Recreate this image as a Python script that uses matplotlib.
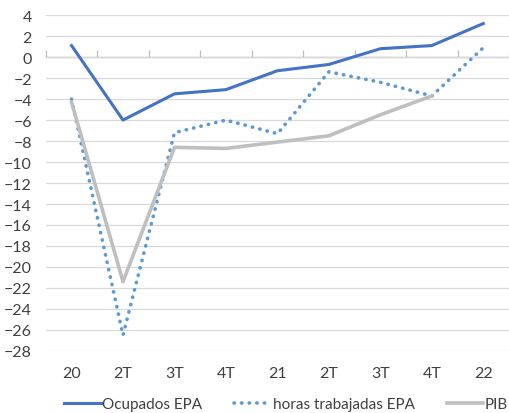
import matplotlib.pyplot as plt
from matplotlib.lines import Line2D
import numpy as np

plt.rcParams['font.family'] = ['Lato', 'DejaVu Sans']

# Datos (tasas de variación, %)
trimestres = ['20', '2T', '3T', '4T', '21', '2T', '3T', '4T', '22']
ocupados = [1.1, -6.0, -3.5, -3.1, -1.3, -0.7, 0.8, 1.1, 3.2]
horas = [-4.0, -26.5, -7.2, -6.0, -7.3, -1.4, -2.4, -3.7, 0.9]
pib = [-4.3, -21.4, -8.6, -8.7, -8.1, -7.5, -5.5, -3.7, np.nan]

x = np.arange(len(trimestres))
txt = '#404040'

fig = plt.figure(figsize=(5.09, 4.14), dpi=100)
ax = fig.add_axes([0.09, 0.15, 0.91, 0.811])

ax.plot(x, ocupados, color='#4472C4', lw=2.2, label='Ocupados EPA')
ax.plot(x, horas, color='#5B9BD5', lw=2.6, ls=(0, (0.1, 2.0)),
        dash_capstyle='round', label='horas trabajadas EPA')
ax.plot(x, pib, color='#BFBFBF', lw=2.6, label='PIB')

ax.set_xlim(-0.5, len(trimestres) - 0.5)
ax.set_ylim(-28, 4)
ax.set_yticks(np.arange(-28, 5, 2))
ax.grid(axis='y', color='#D9D9D9', lw=0.9)
ax.set_axisbelow(True)
for s in ax.spines.values():
    s.set_visible(False)

ax.set_xticks(x)
ax.set_xticklabels(trimestres)
ax.tick_params(axis='x', length=0, pad=11, labelsize=11.5, colors=txt)
ax.tick_params(axis='y', length=0, pad=10, labelsize=11.5, colors=txt)

# eje en cero con marcas entre categorías
sec = ax.secondary_xaxis(28 / 32)
sec.set_xticks(np.arange(-0.5, len(trimestres), 1))
sec.set_xticklabels([])
sec.tick_params(length=5, width=0.9, color='#BFBFBF')
sec.spines['bottom'].set_color('#BFBFBF')
sec.spines['bottom'].set_linewidth(0.9)

handles = [
    Line2D([], [], color='#4472C4', lw=2.2),
    Line2D([], [], color='#5B9BD5', lw=2.6, ls=(0, (0.1, 2.0)), dash_capstyle='round'),
    Line2D([], [], color='#BFBFBF', lw=2.6),
]
fig.legend(handles, ['Ocupados EPA', 'horas trabajadas EPA', 'PIB'],
           loc='center right', bbox_to_anchor=(0.998, 0.022), ncol=3, frameon=False,
           fontsize=11, handlelength=2.4, handletextpad=0.1, columnspacing=2.1,
           borderpad=0, borderaxespad=0, labelcolor=txt)

fig.savefig('out.png', dpi=100)
